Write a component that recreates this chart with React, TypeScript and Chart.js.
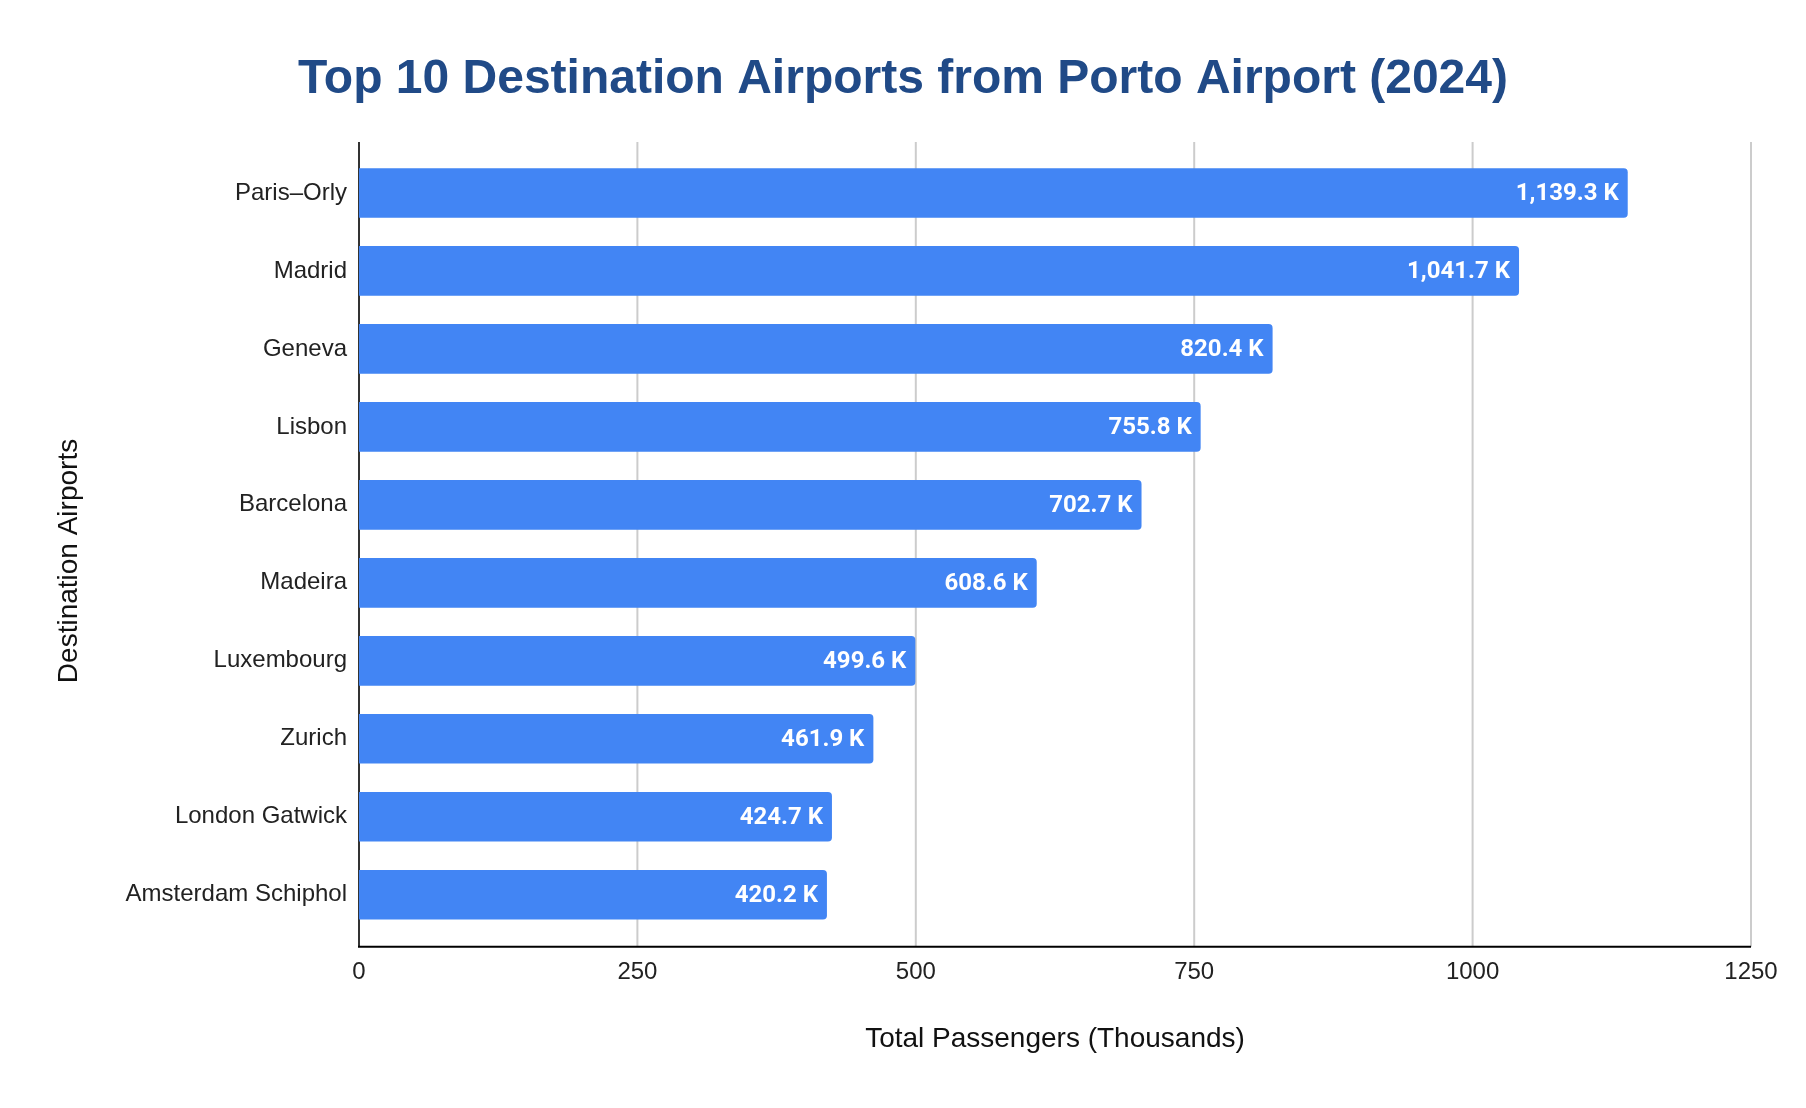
import { useEffect, useRef } from 'react'
import { Chart, registerables } from 'chart.js'
import type { Plugin } from 'chart.js'

Chart.register(...registerables)

// Porto airport, top destinations 2024 (thousands of passengers)
const airports = [
  'Paris–Orly',
  'Madrid',
  'Geneva',
  'Lisbon',
  'Barcelona',
  'Madeira',
  'Luxembourg',
  'Zurich',
  'London Gatwick',
  'Amsterdam Schiphol'
]
const passengers = [1139.3, 1041.7, 820.4, 755.8, 702.7, 608.6, 499.6, 461.9, 424.7, 420.2]
const xTicks = [0, 250, 500, 750, 1000, 1250]

const TITLE = 'Top 10 Destination Airports from Porto Airport (2024)'
const LABEL_FONT = 'Liberation Sans, Arial, sans-serif'

// vertical grid lines + axis lines, slightly taller than the bar band; titles
const framePlugin: Plugin<'bar'> = {
  id: 'frame',
  beforeDatasetsDraw(chart) {
    const { ctx, chartArea } = chart
    const x = chart.scales.x
    const top = chartArea.top - 12
    const bottom = chartArea.bottom + 13
    ctx.save()
    ctx.lineWidth = 2
    ctx.strokeStyle = '#cccccc'
    xTicks.forEach(v => {
      if (v === 0) return
      const px = x.getPixelForValue(v)
      ctx.beginPath()
      ctx.moveTo(px, top)
      ctx.lineTo(px, bottom)
      ctx.stroke()
    })
    const x0 = x.getPixelForValue(0)
    ctx.strokeStyle = '#333333'
    ctx.beginPath()
    ctx.moveTo(x0, top)
    ctx.lineTo(x0, bottom)
    ctx.stroke()
    ctx.strokeStyle = '#000000'
    ctx.beginPath()
    ctx.moveTo(x0 - 1, bottom)
    ctx.lineTo(x.getPixelForValue(1250), bottom)
    ctx.stroke()

    // chart title, centred on the whole canvas
    ctx.fillStyle = '#204a87'
    ctx.font = `bold 48px ${LABEL_FONT}`
    ctx.textAlign = 'center'
    ctx.textBaseline = 'middle'
    ctx.fillText(TITLE, chart.width / 2, 80)

    // y axis title
    ctx.translate(69, 561)
    ctx.rotate(-Math.PI / 2)
    ctx.fillStyle = '#111111'
    ctx.font = `28px ${LABEL_FONT}`
    ctx.fillText('Destination Airports', 0, 0)
    ctx.restore()
  }
}

const valueLabels: Plugin<'bar'> = {
  id: 'valueLabels',
  afterDatasetsDraw(chart) {
    const { ctx } = chart
    const meta = chart.getDatasetMeta(0)
    ctx.save()
    ctx.fillStyle = '#ffffff'
    ctx.font = 'bold 24px Roboto, sans-serif'
    ctx.textAlign = 'right'
    ctx.textBaseline = 'middle'
    meta.data.forEach((bar, i) => {
      const v = passengers[i]
      const txt = v.toLocaleString('en-US', { minimumFractionDigits: 1, maximumFractionDigits: 1 }) + ' K'
      ctx.fillText(txt, bar.x - 9, bar.y + 1)
    })
    ctx.restore()
  }
}

export default function App() {
  const canvasRef = useRef<HTMLCanvasElement>(null)

  useEffect(() => {
    document.body.style.margin = '0'
    if (!canvasRef.current) return
    const chart = new Chart(canvasRef.current, {
      type: 'bar',
      data: {
        labels: airports,
        datasets: [
          {
            label: 'Total Passengers (Thousands)',
            data: passengers,
            backgroundColor: '#4285f4',
            borderRadius: 4,
            borderSkipped: 'start',
            categoryPercentage: 1,
            barPercentage: 0.637
          }
        ]
      },
      options: {
        indexAxis: 'y',
        responsive: false,
        animation: false,
        devicePixelRatio: 1,
        layout: { padding: { left: 0, right: 55, top: 154, bottom: 0 } },
        scales: {
          x: {
            type: 'linear',
            min: 0,
            max: 1250,
            afterBuildTicks: scale => {
              scale.ticks = xTicks.map(v => ({ value: v }))
            },
            afterFit: scale => {
              scale.height = 174.3
            },
            grid: { display: false, drawTicks: false },
            border: { display: false },
            ticks: {
              padding: 24,
              color: '#222222',
              font: { family: LABEL_FONT, size: 24 },
              callback: v => String(v)
            },
            title: {
              display: true,
              text: 'Total Passengers (Thousands)',
              color: '#111111',
              font: { family: LABEL_FONT, size: 28 },
              padding: { top: 0, bottom: 52 }
            }
          },
          y: {
            afterFit: scale => {
              scale.width = 359
            },
            grid: { display: false, drawTicks: false },
            border: { display: false },
            ticks: {
              padding: 12,
              color: '#222222',
              font: { family: LABEL_FONT, size: 24 }
            }
          }
        },
        plugins: {
          legend: { display: false },
          tooltip: { enabled: false },
          title: { display: false }
        }
      },
      plugins: [framePlugin, valueLabels]
    })
    return () => chart.destroy()
  }, [])

  return (
    <div style={{ width: 1806, height: 1108, background: '#fff' }}>
      <canvas ref={canvasRef} width={1806} height={1108} style={{ width: 1806, height: 1108 }} />
    </div>
  )
}
